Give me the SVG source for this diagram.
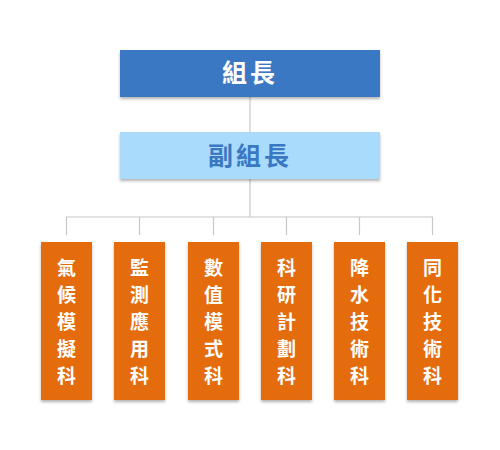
<svg xmlns="http://www.w3.org/2000/svg" width="500" height="450" viewBox="0 0 500 450">
<defs>
<filter id="sh" x="-20%" y="-20%" width="140%" height="140%">
<feDropShadow dx="0" dy="2" stdDeviation="1.5" flood-color="#000" flood-opacity="0.3"/>
</filter>
<style>
.t{font-family:"Noto Sans CJK TC","Noto Sans CJK SC",sans-serif;font-weight:bold;text-anchor:middle}
.top{fill:#3B78C3;filter:url(#sh)}
.sub{fill:#A9DBFD;filter:url(#sh)}
.dep{fill:#E46C0A;filter:url(#sh)}
.dt{fill:#fff;font-size:19px}
.ln{stroke:#C8C8C8;stroke-width:1.2;fill:none}
</style>
</defs>
<rect width="500" height="450" fill="#fff"/>
<g id="connectors">
<path class="ln" d="M250 97V132M250 179V217M66.5 235V217H432.5V235M139.5 217V235M213.5 217V235M286.5 217V235M359.5 217V235"/>
</g>
<g id="leader">
<rect class="top" x="120" y="50" width="260" height="47"/>
<text class="t" x="250" y="82" font-size="25" fill="#fff" letter-spacing="3">組長</text>
</g>
<g id="deputy">
<rect class="sub" x="120" y="132" width="260" height="47"/>
<text class="t" x="250" y="165" font-size="25" fill="#3B78C3" letter-spacing="3">副組長</text>
</g>
<g id="d1">
<rect class="dep" x="41" y="242" width="51" height="158"/>
<text class="t dt" x="66.5"><tspan x="66.5" y="275">氣</tspan><tspan x="66.5" y="302">候</tspan><tspan x="66.5" y="329">模</tspan><tspan x="66.5" y="356">擬</tspan><tspan x="66.5" y="383">科</tspan></text>
</g>
<g id="d2">
<rect class="dep" x="114" y="242" width="51" height="158"/>
<text class="t dt" x="139.5"><tspan x="139.5" y="275">監</tspan><tspan x="139.5" y="302">測</tspan><tspan x="139.5" y="329">應</tspan><tspan x="139.5" y="356">用</tspan><tspan x="139.5" y="383">科</tspan></text>
</g>
<g id="d3">
<rect class="dep" x="188" y="242" width="51" height="158"/>
<text class="t dt" x="213.5"><tspan x="213.5" y="275">數</tspan><tspan x="213.5" y="302">值</tspan><tspan x="213.5" y="329">模</tspan><tspan x="213.5" y="356">式</tspan><tspan x="213.5" y="383">科</tspan></text>
</g>
<g id="d4">
<rect class="dep" x="261" y="242" width="51" height="158"/>
<text class="t dt" x="286.5"><tspan x="286.5" y="275">科</tspan><tspan x="286.5" y="302">研</tspan><tspan x="286.5" y="329">計</tspan><tspan x="286.5" y="356">劃</tspan><tspan x="286.5" y="383">科</tspan></text>
</g>
<g id="d5">
<rect class="dep" x="334" y="242" width="51" height="158"/>
<text class="t dt" x="359.5"><tspan x="359.5" y="275">降</tspan><tspan x="359.5" y="302">水</tspan><tspan x="359.5" y="329">技</tspan><tspan x="359.5" y="356">術</tspan><tspan x="359.5" y="383">科</tspan></text>
</g>
<g id="d6">
<rect class="dep" x="407" y="242" width="51" height="158"/>
<text class="t dt" x="432.5"><tspan x="432.5" y="275">同</tspan><tspan x="432.5" y="302">化</tspan><tspan x="432.5" y="329">技</tspan><tspan x="432.5" y="356">術</tspan><tspan x="432.5" y="383">科</tspan></text>
</g>
</svg>
